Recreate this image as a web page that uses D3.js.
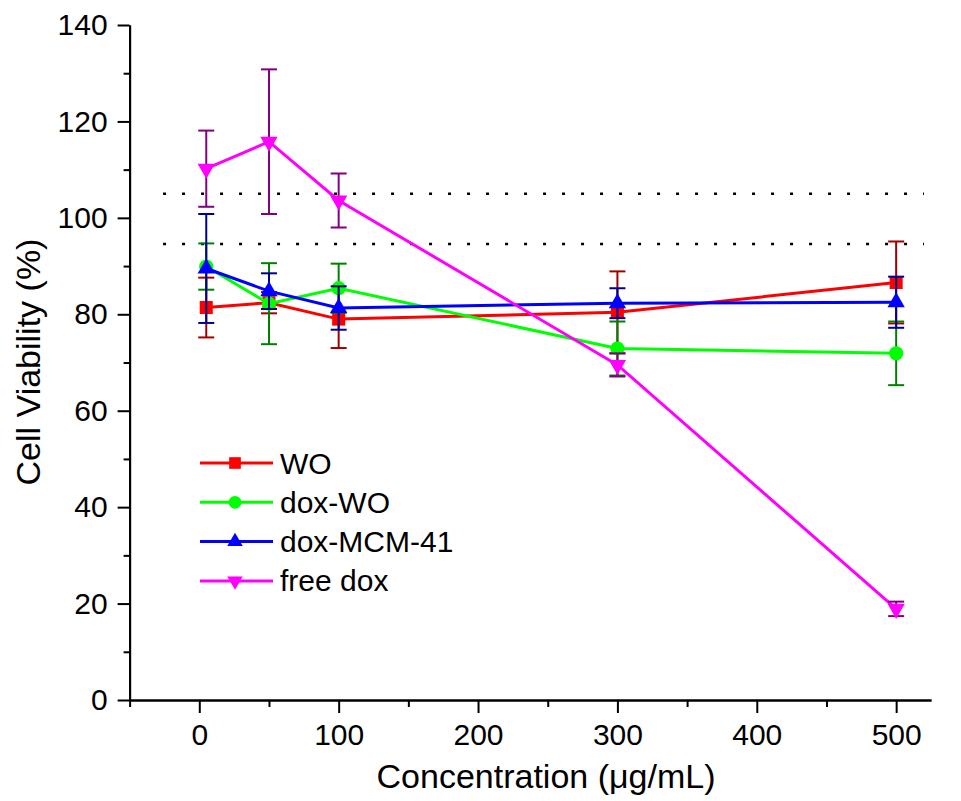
<!DOCTYPE html>
<html>
<head>
<meta charset="utf-8">
<script src="https://cdn.jsdelivr.net/npm/d3@7"></script>
<style>
  body { margin: 0; background: #fff; }
  text { font-family: "Liberation Sans", Arial, sans-serif; fill: #000; }
</style>
</head>
<body>
<div id="chart"></div>
<script>
// data
const concentrations = [5, 50, 100, 300, 500];

const woMean = [81.4, 82.4, 79.0, 80.4, 86.6];
const woErr = [6.2, 2.2, 6.0, 8.5, 8.5];

const doxWoMean = [89.9, 82.2, 85.4, 72.9, 71.9];
const doxWoErr = [4.8, 8.4, 5.1, 5.6, 6.6];

const mcmMean = [89.5, 84.8, 81.3, 82.3, 82.5];
const mcmErr = [11.3, 3.7, 4.5, 3.1, 5.3];

const freeMean = [110.2, 115.8, 103.6, 69.5, 18.9];
const freeErr = [7.9, 15.0, 5.6, 2.4, 1.5];

const seriesNames = ["WO", "dox-WO", "dox-MCM-41", "free dox"];

const refLevels = [105, 94.6];
const refXRange = [-26, 520];

const xMajorTicks = [0, 100, 200, 300, 400, 500];
const xMinorTicks = [-50, 50, 150, 250, 350, 450];
const yMajorTicks = [0, 20, 40, 60, 80, 100, 120, 140];
const yMinorTicks = [10, 30, 50, 70, 90, 110, 130];

const width = 961, height = 801;

const series = [
    {name: seriesNames[0], mean: woMean, err: woErr, colour: "#ff0000", errColour: "#a00000", symbol: d3.symbolSquare, size: 170, rotate: 0},
    {name: seriesNames[1], mean: doxWoMean, err: doxWoErr, colour: "#00ff00", errColour: "#008000", symbol: d3.symbolCircle, size: 160, rotate: 0},
    {name: seriesNames[2], mean: mcmMean, err: mcmErr, colour: "#0000ff", errColour: "#000090", symbol: d3.symbolTriangle, size: 130, rotate: 0},
    {name: seriesNames[3], mean: freeMean, err: freeErr, colour: "#ff00ff", errColour: "#800080", symbol: d3.symbolTriangle, size: 130, rotate: 180}
];

const svg = d3.select("#chart").append("svg")
    .attr("width", width)
    .attr("height", height);

svg.append("rect").attr("width", width).attr("height", height).attr("fill", "#fff");

const x = d3.scaleLinear().domain([-50, 525]).range([129.6, 931]);
const y = d3.scaleLinear().domain([0, 140]).range([700, 25]);

// dotted reference lines
svg.selectAll(".ref")
    .data(refLevels)
    .join("line")
    .attr("class", "ref")
    .attr("x1", x(refXRange[0]))
    .attr("x2", x(refXRange[1]))
    .attr("y1", d => y(d))
    .attr("y2", d => y(d))
    .attr("stroke", "#000")
    .attr("stroke-width", 2.5)
    .attr("stroke-dasharray", "3,16");

// axes
const yAxis = svg.append("g").attr("transform", `translate(${x(-50)},0)`);
yAxis.call(d3.axisLeft(y).tickValues(yMajorTicks).tickSize(12).tickSizeOuter(0).tickPadding(10));
const yMinor = svg.append("g").attr("transform", `translate(${x(-50)},0)`);
yMinor.call(d3.axisLeft(y).tickValues(yMinorTicks).tickSize(6).tickSizeOuter(0).tickFormat(""));

const xAxis = svg.append("g").attr("transform", `translate(0,${y(0)})`);
xAxis.call(d3.axisBottom(x).tickValues(xMajorTicks).tickSize(13).tickSizeOuter(0).tickPadding(11));
const xMinor = svg.append("g").attr("transform", `translate(0,${y(0)})`);
xMinor.call(d3.axisBottom(x).tickValues(xMinorTicks).tickSize(7).tickSizeOuter(0).tickFormat(""));

svg.selectAll(".domain").attr("stroke", "#000").attr("stroke-width", 2);
svg.selectAll(".tick line").attr("stroke", "#000").attr("stroke-width", 2);
svg.selectAll(".tick text")
    .style("font-family", "'Liberation Sans', Arial, sans-serif")
    .style("font-size", "30px")
    .attr("fill", "#000");

// axis titles
svg.append("text")
    .attr("x", 546)
    .attr("y", 788)
    .attr("text-anchor", "middle")
    .style("font-size", "34px")
    .text("Concentration (\u03bcg/mL)");

svg.append("text")
    .attr("transform", "translate(40,362) rotate(-90)")
    .attr("text-anchor", "middle")
    .style("font-size", "34px")
    .text("Cell Viability (%)");

// series
const line = d3.line().x(d => x(d[0])).y(d => y(d[1]));
const capW = 8;

series.forEach(s => {
    const pts = concentrations.map((c, i) => [c, s.mean[i], s.err[i]]);
    const g = svg.append("g");

    g.append("path")
        .attr("d", line(pts))
        .attr("fill", "none")
        .attr("stroke", s.colour)
        .attr("stroke-width", 3);

    const eb = g.selectAll(".eb").data(pts).join("g");
    eb.append("line")
        .attr("x1", d => x(d[0])).attr("x2", d => x(d[0]))
        .attr("y1", d => y(d[1] - d[2])).attr("y2", d => y(d[1] + d[2]));
    eb.append("line")
        .attr("x1", d => x(d[0]) - capW).attr("x2", d => x(d[0]) + capW)
        .attr("y1", d => y(d[1] + d[2])).attr("y2", d => y(d[1] + d[2]));
    eb.append("line")
        .attr("x1", d => x(d[0]) - capW).attr("x2", d => x(d[0]) + capW)
        .attr("y1", d => y(d[1] - d[2])).attr("y2", d => y(d[1] - d[2]));
    eb.selectAll("line").attr("stroke", s.errColour).attr("stroke-width", 2);

    g.selectAll(".pt").data(pts).join("path")
        .attr("d", d3.symbol().type(s.symbol).size(s.size))
        .attr("transform", d => `translate(${x(d[0])},${y(d[1])}) rotate(${s.rotate})`)
        .attr("fill", s.colour);
});

// legend
const legend = svg.append("g").attr("transform", "translate(200,463)");
const rowH = 39.3;
series.forEach((s, i) => {
    const row = legend.append("g").attr("transform", `translate(0,${i * rowH})`);
    row.append("line")
        .attr("x1", 0).attr("x2", 73).attr("y1", 0).attr("y2", 0)
        .attr("stroke", s.colour).attr("stroke-width", 3);
    row.append("path")
        .attr("d", d3.symbol().type(s.symbol).size(s.size * 0.8))
        .attr("transform", `translate(35,0) rotate(${s.rotate})`)
        .attr("fill", s.colour);
    row.append("text")
        .attr("x", 80)
        .attr("y", 10.5)
        .style("font-size", "30px")
        .text(s.name);
});
</script>
</body>
</html>
